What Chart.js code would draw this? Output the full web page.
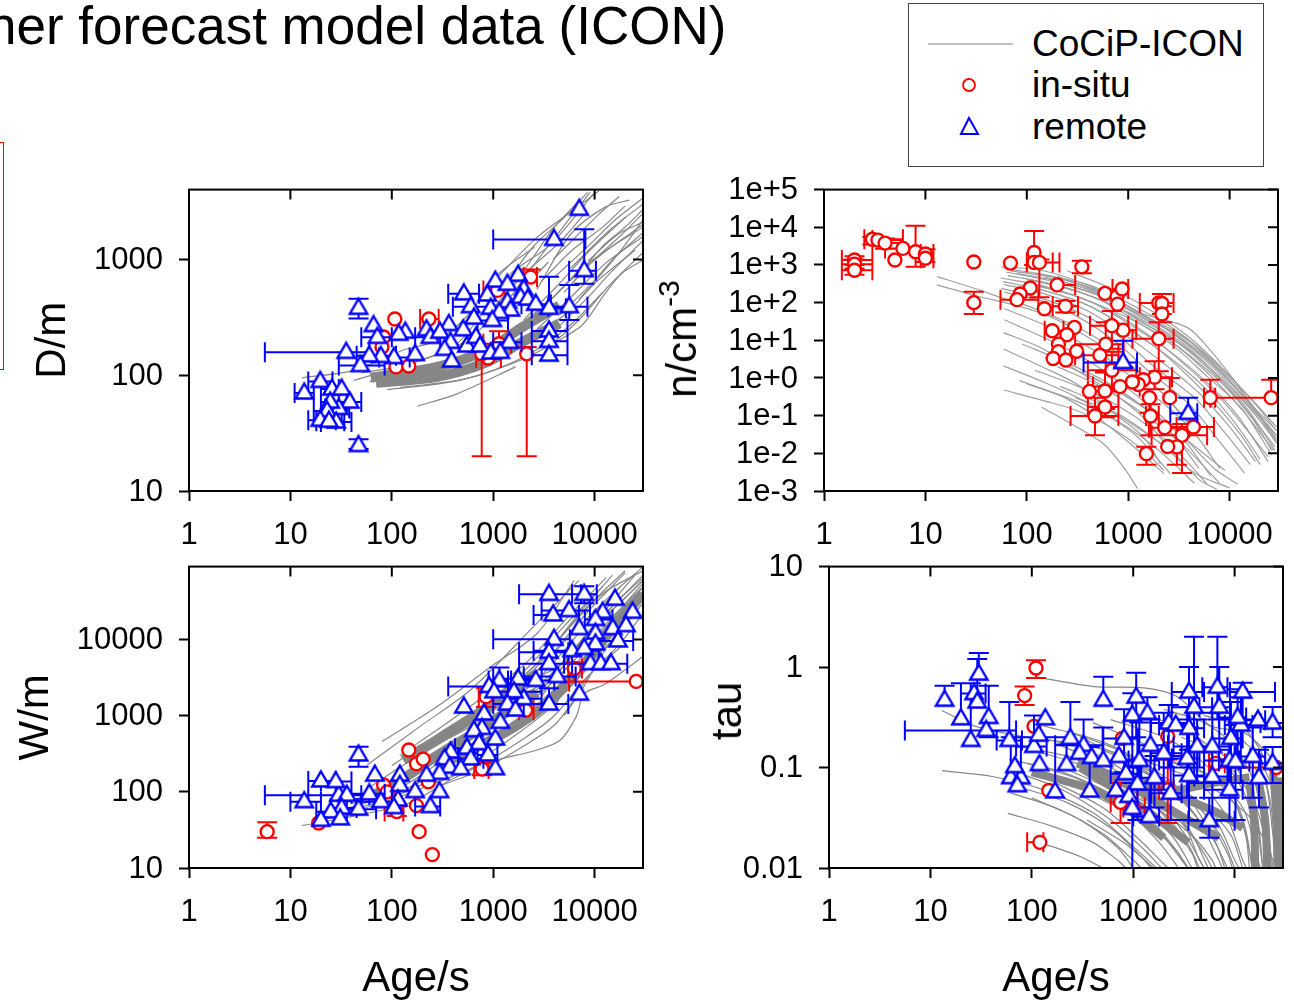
<!DOCTYPE html>
<html lang="en">
<head>
<meta charset="UTF-8">
<title>CoCiP-ICON contrail comparison</title>
<script src="https://cdn.jsdelivr.net/npm/chart.js"></script>
<style>
    body { margin: 0; background: #fff; width: 1294px; height: 1002px; overflow: hidden; position: relative;
           font-family: "Liberation Sans", Arial, sans-serif; color: #000; }
    canvas { position: absolute; }
    .title { position: absolute; left: -13px; top: -5px; font-size: 53px; line-height: 62px; white-space: nowrap; }
    .redbox { position: absolute; left: -10px; top: 142px; width: 12px; height: 226px; border: 1px solid #f00; }
    .ylabel { position: absolute; font-size: 42px; line-height: 50px; white-space: nowrap;
              transform: translate(-50%, -50%) rotate(-90deg); }
    .ylabel sup { font-size: 30px; line-height: 0; vertical-align: 17px; }
    .legend { position: absolute; left: 908px; top: 3px; width: 354px; height: 162px; border: 1px solid #444; background: #fff; }
    .legend span { position: absolute; left: 123px; font-size: 37px; line-height: 42px; white-space: nowrap; }
    .legend svg { position: absolute; left: 0; top: 0; }
</style>
</head>
<body>
<div class="title">her forecast model data (ICON)</div>
<div class="redbox"></div>

<canvas id="panelD" width="627" height="401" style="left:28px;top:155px"></canvas>
<canvas id="panelN" width="630" height="401" style="left:660px;top:155px"></canvas>
<canvas id="panelW" width="644" height="473" style="left:11px;top:532px"></canvas>
<canvas id="panelT" width="593" height="473" style="left:702px;top:532px"></canvas>

<div class="ylabel" style="left:682px;top:339px">n/cm<sup>-3</sup></div>
<div class="ylabel" style="left:727px;top:711px">tau</div>

<div class="legend">
    <svg width="354" height="162">
        <line x1="19" y1="40" x2="104" y2="40" stroke="#aaa" stroke-width="1.5"></line>
        <circle cx="60" cy="81" r="6" fill="none" stroke="#f00" stroke-width="1.8"></circle>
        <path d="M60 114 L69 130 L52 130 Z" fill="none" stroke="#00f" stroke-width="2"></path>
    </svg>
    <span style="top:19px">CoCiP-ICON</span>
    <span style="top:60px">in-situ</span>
    <span style="top:102px">remote</span>
</div>

<script>
    // Axis ticks
    const ageTicks = [1, 10, 100, 1000, 10000];
    const ageLabels = ["1", "10", "100", "1000", "10000"];
    const dTicks = [10, 100, 1000];
    const dLabels = ["10", "100", "1000"];
    const nTicks = [1e-3, 1e-2, 1e-1, 1, 10, 100, 1e3, 1e4, 1e5];
    const nLabels = ["1e-3", "1e-2", "1e-1", "1e+0", "1e+1", "1e+2", "1e+3", "1e+4", "1e+5"];
    const wTicks = [10, 100, 1000, 10000];
    const wLabels = ["10", "100", "1000", "10000"];
    const tauTicks = [0.01, 0.1, 1, 10];
    const tauLabels = ["0.01", "0.1", "1", "10"];

    // Observations: [age, value, ageLow, ageHigh, valueLow, valueHigh], 0 or missing = no bar
    const dInsitu = [
        [107,306],[232,306,190,290],[83,214],[110,118],[147,120],[80,175],[890,141,680,1190],
        [770,153,0,0,20,175],[2140,153,0,0,20,175],[2340,705,2000,2700,0,820],[1140,187,800,1500,0,240],[1100,540,800,1300]
    ];
    const dRemote = [
        [7060,2820],[3980,1550,1000,8100],[7900,832,5600,10300,617,1820],[1760,760],[1050,676],[1380,635],
        [513,525,360,725],[875,513],[2000,575],[1860,490],[2190,473],[1380,447],[600,407,400,900],[945,394],
        [2630,427,1900,3700],[3550,394,2400,5200,0,708],[5620,407,3500,8500,300,600],[1480,380],[1150,363],
        [645,324],[980,309,700,1400],[47,394,0,0,309,457],[66,279],[136,245],[72,221,50,100],[117,235],[220,257],
        [365,285],[240,221,170,300],[298,245],[507,257],[380,200],[331,174],[550,186],[676,221],[741,186],[1440,200,1000,1900],
        [945,162],[1175,164],[389,138],[170,157],[105,148,75,150],[78,151],[60,153,45,110],[49,126,30,85],[35.5,164,5.6,60],
        [3550,251,2400,5400],[3550,204,2400,5400],[3550,155,2400,5400,0,0],[19.7,92,15,26],[13.7,73,11,17],[25.7,79,20,30],
        [32,79],[38.5,61,30,50],[30,53.7,22,38],[24.7,61,20,36],[23,51,17,32],[19.7,42.5,15,28],[28.3,41,20,40],[24,41.7,18,34],
        [47,25.7,0,0,23,28]
    ];
    const nInsitu = [
        [2,1350,1.5,3,1000,1700],[2,1050,1.5,3,800,1400],[2,725,1.5,3,550,1000],[3,4800,2.5,6,3500,5500],[3.4,4570,3,6],
        [4,3800,3,6,2700,5000],[5,1350],[6,2750,4,8],[8,2250,0,0,890,11000],[10,1950,9,12,1200,2600],[10,1510,9,12],
        [30,1200],[30,100,0,0,50,195],[69,1120],[118,2150,0,0,1000,8000],[118,1170,100,180],[133,1170,100,210,138,1400],
        [349,890,0,0,600,1300],[199,295,0,300],[108,245],[86,170],[80,120,55,130],[149,69],[240,80,180,320,55,110],
        [590,176],[775,145],[870,229,700,1000],[785,91],[2000,98,1300,2800],[2150,95,0,0,50,170],[2150,50,0,0,30,80],
        [890,18.6,600,1200],[690,24.5,420,1000,6,60],[295,22],[178,18,150,230],[248,14],[2000,11,1100,2800,1.5,30],
        [600,7.9,300,900,1.5,30],[205,7.9],[205,5],[310,5.1],[182,3.3],[243,3],[525,4,300,800],[690,1.6,400,1200,0.5,5],
        [1820,1.05,1300,2700,0.5,2.8],[1410,0.9],[1260,0.67],[1100,0.78],[830,0.59,450,1300],[590,0.45,400,800,0.15,1.4],
        [415,0.44,400,800],[590,0.17,400,800,0.09,0.45],[470,0.098,270,800,0.03,0.3],[1620,0.3,0,0,0.12,0.5],
        [2570,0.3,0,0,0,1],[1660,0.098,1500,2000,0.03,0.2],[6450,0.3,5600,7200,0,0.9],[25700,0.3,6450,0,0,0.9],
        [1510,0.0098,0,0,0.005,0.015],[2290,0.048,1600,4000],[4400,0.05,3000,7000],[3390,0.03,1700,6000,0.003,0.06],
        [3020,0.0148,0,0,0.005,0.05],[2450,0.0152]
    ];
    const nRemote = [
        [890,2.9,363,1220,1.9,9.8],[3900,0.13,2600,4800,0,0.3]
    ];
    const wInsitu = [
        [5.9,30,0,0,25,40],[19,39],[83,123],[90,100],[112,55,85,130,48,64],[147,355],[175,234],[204,269],[229,136],[175,66],
        [186,30],[251,15],[776,200,650,900,165,240],[850,1780,720,1000,1300,2300],[6300,4170,5500,7500,2800,5000],
        [25700,2820,5600],[2090,1180,1800,2500]
    ];
    const wRemote = [
        [3550,41700,1800,7330],[7900,41700,6000,10500,30000,50000],[15900,36000],[23700,24300],[5600,25500,3000,9000],
        [3900,22400,2500,7000],[12000,24300],[10200,19500,8000,15000],[7060,14800],[15100,14800],[20400,16200],
        [3980,10700,1000,5700],[17000,10200,11000,24000],[10200,12900],[10200,9300],[6000,7590,2500,11000],[7900,8130],
        [3550,7240,1800,5500],[3550,5130,1800,6000],[9100,5130,5000,21000],[11500,5130],[14500,5130],[4270,3470,2000,6500],
        [7060,2040,0,0],[2630,3090,1500,4000],[1760,3240,1000,3000],[1150,3090,900,1400,0,4300],[2000,1780,1400,3000],
        [3550,1510,1800,5500,0,2300],[1600,2190,1000,3000],[1380,1510,1000,2000],[1660,1260],[910,2570,360,1400],[1020,2190],
        [513,1380],[813,1120],[1175,870],[776,724],[645,676],[1050,525],[724,457],[550,398,420,800],[380,355],[890,324,700,1100],
        [600,288,450,800],[331,288],[372,224],[478,214],[1050,214],[295,186],[220,176],[47,324,0,0,214,390],[68,176],
        [120,176],[120,129],[170,107],[295,107],[60,100,40,85],[30,96,15,50],[36,96,5.6,60],[20,148,15,28],[28,145,20,40],
        [13.7,79,10,20],[115,83],[78,79,50,100],[47,63,30,70],[32,65,25,45],[25,58,18,36],[31,47],[20,45],[105,66],[240,68,170,300]
    ];
    const tInsitu = [
        [110,0.98,0,0,0.78,1.17],[85,0.52,0,0,0.42,0.64],[105,0.257],[147,0.059],[120,0.018,90,130],[780,0.195],
        [2190,0.204],[750,0.045,600,1100,0.028,0.07],[1000,0.04,800,1300],[2190,0.06,1800,2500,0.028,0.12],
        [6500,0.11,5600,8000],[25700,0.1,5600]
    ];
    const tRemote = [
        [13.8,0.49,0,0,0,0.65],[20,0.32,0,0,0,0.69],[25,0.195,0,0,0,0.69],[27,0.57,20,35],[30,0.89,0,0,0,1.38],[29,0.47,0,0,0,1.2],
        [37.6,0.33,0,0,0.2,0.65],[35.5,0.245,5.6,70],[60,0.195,45,80,0,0.45],[62,0.083,0,0,0,0.2],[78,0.083,0,0,0,0.2],[72,0.069],
        [68,0.107],[105,0.17,70,140,0,0.33],[119,0.112],[117,0.22],[136,0.32],[170,0.06,0,0,0,0.2],[220,0.112,0,0,0,0.17],
        [240,0.204,0,0,0,0.45],[372,0.061,0,0,0,0.16],[324,0.174,170,500,0,0.3],[295,0.145],[389,0.132],[507,0.49,0,0,0,0.8],
        [507,0.123,0,0,0,0.25],[676,0.062],[724,0.135],[813,0.204,500,1100,0.09,0.38],[850,0.091,600,1200],[980,0.347,0,0,0.1,0.55],
        [1070,0.525,0,0,0.2,0.88],[1100,0.072,0,0,0.03,0.12],[1150,0.123,900,1800,0.07,0.28],[910,0.054],[980,0.041,0,0,0.01,0.07],
        [1380,0.363,0,0,0,0.5],[1480,0.174,1100,2200,0.04,0.3],[1440,0.034,1000,1800,0,0.06],[1620,0.083,1000,2000,0.04,0.13],
        [2000,0.145,1500,3000,0.06,0.35],[2340,0.058,1500,3000,0.03,0.13],[2240,0.29,1500,3400,0.1,0.42],[2630,0.277,1800,3600],
        [3550,0.59,2400,5000,0.25,1],[3980,0.417,2400,6000,0.1,2],[3550,0.257,2000,5000,0.1,0.4],[3400,0.129,2400,4500,0.05,0.3],
        [4270,0.17,2500,6000,0.07,0.3],[3550,0.087,2500,5000,0.03,0.15],[6760,0.66,4800,8500,0.3,2],[7060,0.417,4500,9000,0.15,1],
        [6030,0.17,4000,9000,0.07,0.35],[6030,0.085,4000,8500,0.03,0.15],[5620,0.031,3500,10000,0.02,0.05],[8900,0.123,5000,11000,0.05,0.3],
        [8900,0.063,5000,12000,0.03,0.12],[9200,0.204,6000,12000,0.07,0.45],[10200,0.12,7000,14000,0.03,0.3],[12000,0.59,9000,25000,0.3,0.7],
        [11500,0.277,8000,15000,0.07,0.5],[15100,0.135,10000,20000,0.05,0.25],[17400,0.083,0,0,0.04,0.15],[23700,0.29,18000,30000,0.2,0.4],
        [23700,0.115,18000,30000,0.07,0.16],[17000,0.31,12000,20000],[10700,0.33,7000,13000,0.1,0.6]
    ];

    // Simulated contrail trails, each a list of [age, value]
    const dTrails = [
        [[13,95],[42,110],[130,165],[280,200],[600,350],[1030,700],[2550,1280]],
        [[42,90],[130,122],[410,178],[870,390],[1480,750],[3700,1350],[10000,3800]],
        [[1100,700],[2700,1550],[6300,2700],[11000,3900]],
        [[3900,1000],[11000,2450],[17500,3500]],
        [[2700,550],[5800,1650],[12700,2830],[22000,3250]],
        [[5800,840],[12700,1650],[22000,2450],[30000,3000]],
        [[8600,970],[17000,1650],[30000,2100]],
        [[2700,340],[5800,660],[12700,1170],[30000,2000]],
        [[2700,250],[5800,470],[12700,920],[30000,1580]],
        [[3980,240],[8600,470],[15000,800],[30000,1450]],
        [[3980,190],[7500,270],[12700,510],[18600,760],[30000,990]],
        [[178,54],[440,69],[1660,118]],
        [[1500,480],[3000,1100],[6000,2400],[9000,3800]],
        [[1000,380],[2200,800],[4500,1400],[8000,2500]],
        [[2000,300],[4500,620],[9000,1200],[20000,2300]],
        [[1500,240],[3500,430],[7000,800],[15000,1300],[30000,1900]],
        [[60,88],[200,108],[500,145],[1000,195],[2000,280],[4000,480],[8000,900]],
        [[70,82],[300,100],[800,140],[2000,200],[5000,330],[10000,620],[25000,1200]],
        [[90,75],[400,88],[1000,110],[2500,160],[6000,280],[12000,520]],
        [[50,105],[150,125],[500,190],[900,290],[1800,520],[3500,950]],
        [[120,78],[500,92],[1500,125],[3500,180],[7000,300],[14000,600],[30000,1150]],
        [[3000,650],[6000,1200],[12000,1900],[20000,2900]],
        [[4000,700],[9000,1350],[16000,2200],[30000,3400]],
        [[5000,520],[10000,1000],[18000,1600],[30000,2500]],
        [[1200,450],[2200,900],[4000,1900],[7000,3200]],
        [[1300,600],[2500,1300],[5000,2300],[8500,3800]],
        [[6000,620],[12000,1300],[20000,1900],[30000,2700]],
        [[7000,450],[14000,900],[22000,1500],[30000,2200]],
        [[4500,330],[9000,600],[16000,1050],[30000,1700]]
    ];
    const dDense = [
        [[62,95],[280,118],[870,165],[1860,255],[4500,400]],
        [[70,86],[280,97],[870,130],[1860,190],[4500,280]]
    ];
    const nTrails = [
        [[56,890],[146,700],[453,250],[1420,50],[3800,22],[6500,5.3],[13900,0.38],[29000,0.022]],
        [[60,800],[180,500],[500,190],[1400,40],[3500,12],[7500,2.2],[16000,0.22],[29000,0.018]],
        [[62,650],[170,380],[500,160],[1300,32],[3000,9],[7000,1.3],[15000,0.15],[28000,0.012]],
        [[65,520],[190,300],[520,120],[1250,30],[2900,6.5],[6000,1.1],[13000,0.16],[26000,0.009]],
        [[55,450],[160,260],[450,100],[1100,24],[2600,5],[6000,0.75],[12000,0.1],[24000,0.006]],
        [[58,360],[150,210],[420,80],[1000,20],[2400,4],[5500,0.6],[11000,0.07],[20000,0.007]],
        [[60,300],[150,170],[400,60],[900,15],[2100,2.8],[5000,0.4],[10000,0.05],[18000,0.006]],
        [[56,240],[140,130],[360,48],[800,13],[1800,2],[4500,0.3],[9000,0.035],[16000,0.005]],
        [[60,190],[150,105],[330,40],[720,10],[1600,1.5],[4000,0.2],[8000,0.02],[14000,0.003]],
        [[100,420],[350,180],[1000,55],[2800,11],[7000,1.5],[16000,0.15],[29000,0.02]],
        [[100,350],[300,150],[900,45],[2500,10],[6000,1.4],[14000,0.12],[27000,0.012]],
        [[80,600],[300,290],[900,80],[2500,18],[6500,2.2],[15000,0.2],[29000,0.03]],
        [[120,600],[400,300],[1100,85],[3000,18],[7000,2.8],[16000,0.3],[29000,0.05]],
        [[200,500],[600,170],[1500,42],[3500,13],[8000,1.6],[18000,0.14],[29000,0.03]],
        [[13,490],[32,230],[68,112],[100,83],[230,33],[500,11],[1100,2],[2400,0.3],[5000,0.03]],
        [[13,295],[32,150],[80,83],[180,40],[400,12],[900,3],[2000,0.5],[4200,0.05]],
        [[59,16],[146,5.9],[310,1.6],[665,0.45],[1400,0.09],[2600,0.012]],
        [[59,5.9],[146,1.9],[310,0.69],[665,0.137],[1420,0.027],[2080,0.0053]],
        [[59,2.1],[146,0.78],[310,0.31],[665,0.091],[1240,0.027],[2600,0.0029]],
        [[59,0.48],[146,0.25],[310,0.137],[665,0.05],[1420,0.012],[2250,0.0035]],
        [[140,0.168],[310,0.05],[570,0.018],[900,0.0043],[1240,0.00115]],
        [[85,0.85],[230,0.31],[490,0.091],[1050,0.018],[2250,0.0029]],
        [[214,0.6],[500,0.22],[1200,0.05],[2800,0.01],[5000,0.002],[7500,0.0011]],
        [[100,0.7],[300,0.25],[800,0.07],[2000,0.012],[4500,0.0016]],
        [[60,35],[200,8],[500,2],[1200,0.35],[3000,0.04],[6500,0.0025]],
        [[60,70],[200,18],[600,3.5],[1500,0.5],[4000,0.05],[8000,0.004]],
        [[200,2],[500,0.65],[1300,0.13],[3500,0.016],[8000,0.0016]],
        [[300,0.3],[800,0.11],[2000,0.02],[4500,0.003],[10000,0.0012]],
        [[400,1.2],[1000,0.3],[3000,0.04],[7000,0.004],[12000,0.0015]],
        [[150,3.5],[500,0.9],[1500,0.15],[4000,0.02],[9000,0.0035]],
        [[70,700],[220,420],[650,150],[1600,38],[3800,9],[8000,1.6],[17000,0.15],[29000,0.025]],
        [[90,450],[260,230],[700,85],[1700,22],[4000,4],[8500,0.7],[17000,0.08],[26000,0.012]],
        [[110,300],[300,150],[750,50],[1700,12],[3800,2],[8000,0.3],[15000,0.04],[24000,0.008]],
        [[130,230],[350,100],[800,30],[1800,7],[3800,1.2],[7500,0.18],[13000,0.03],[20000,0.005]],
        [[150,480],[420,220],[1100,70],[2800,15],[6500,2.5],[14000,0.3],[29000,0.04]],
        [[200,350],[600,130],[1500,35],[3500,8],[7500,1.2],[15000,0.13],[28000,0.015]],
        [[250,700],[700,230],[1700,60],[4000,12],[8500,1.8],[18000,0.2],[29000,0.04]],
        [[90,8],[250,2.5],[600,0.8],[1300,0.2],[2800,0.03],[5000,0.004]],
        [[120,1.6],[320,0.6],[800,0.18],[1800,0.04],[3800,0.006],[6000,0.0015]]
    ];
    const wTrails = [
        [[13,36],[42,48],[150,72],[350,135],[870,240],[2700,355],[4600,480],[6600,980],[7900,1950],[12700,2600],[30000,6000]],
        [[80,457],[280,1320],[940,4370],[2700,12000],[6300,60000]],
        [[57,225],[190,724],[600,2190],[2500,14800],[7000,60000]],
        [[62,118],[130,225],[280,417],[600,724],[1270,1450],[2700,2400],[6000,7000],[14000,25000],[30000,70000]],
        [[45,80],[130,150],[280,300],[600,550],[1270,1100],[2700,2000],[6000,6000],[14000,22000],[30000,60000]],
        [[40,70],[130,120],[280,230],[600,420],[1270,900],[2700,1800],[6000,5000],[14000,18000],[30000,50000]],
        [[35,60],[120,100],[300,190],[700,360],[1500,700],[3000,1500],[6500,4000],[15000,15000],[30000,42000]],
        [[25,48],[100,85],[300,160],[800,290],[1800,600],[3500,1200],[7000,3300],[16000,11000],[30000,30000]],
        [[20,42],[80,72],[250,125],[800,240],[2000,500],[4000,1000],[8000,3000],[18000,9000],[30000,22000]],
        [[100,220],[300,600],[800,1400],[2000,3800],[5000,15000],[12000,50000]],
        [[120,300],[350,800],[900,2000],[2200,5200],[5500,20000],[13000,65000]],
        [[150,330],[400,700],[1000,1500],[2500,3500],[6000,12000],[15000,40000],[30000,90000]],
        [[600,1000],[1500,2400],[3500,7000],[8000,25000],[20000,80000]],
        [[1000,1800],[2500,4000],[5000,12000],[12000,40000],[30000,80000]],
        [[1500,1200],[3500,3000],[7000,9000],[16000,30000],[30000,65000]],
        [[2000,900],[4000,2000],[8000,6000],[16000,20000],[30000,48000]],
        [[300,120],[800,200],[2000,400],[4000,750],[6000,1500],[9000,3500],[18000,8000]],
        [[2500,3000],[5000,5000],[10000,15000],[20000,35000],[30000,60000]],
        [[200,400],[500,850],[1200,1900],[3000,5500],[7000,22000],[15000,70000]],
        [[2000,2500],[4000,7000],[9000,25000],[20000,75000]],
        [[3000,1800],[6000,6500],[12000,22000],[25000,70000]],
        [[4000,1300],[7000,4500],[13000,15000],[30000,55000]],
        [[5000,1000],[7500,2200],[14000,9000],[30000,35000]],
        [[700,650],[1600,1600],[3500,4200],[8000,15000],[18000,50000]],
        [[500,300],[1200,650],[2500,1300],[5000,3000],[10000,10000],[22000,30000]],
        [[400,270],[1000,480],[2500,900],[5000,2200],[9000,6000],[20000,18000]]
    ];
    const wDense = [
        [[62,85],[130,150],[280,300],[600,560],[1270,1050],[2700,2000]],
        [[300,230],[870,450],[1860,800],[3500,1500],[7000,3800],[15000,14000],[30000,40000]],
        [[130,260],[280,480],[600,900],[1270,1800],[2700,3500]]
    ];
    const tTrails = [
        [[110,0.8],[410,0.64],[1270,0.62],[2700,0.51],[5800,0.26],[12700,0.22],[24000,0.12]],
        [[13,0.37],[27,0.26],[90,0.2],[300,0.17],[900,0.13],[2000,0.1],[5000,0.07],[15000,0.03],[26000,0.01]],
        [[13,0.093],[42,0.081],[130,0.06],[410,0.035],[900,0.018],[1700,0.01]],
        [[62,0.056],[190,0.038],[500,0.022],[1000,0.012],[1200,0.01]],
        [[58,0.035],[160,0.026],[400,0.018],[700,0.012],[850,0.01]],
        [[120,0.018],[300,0.013],[500,0.01]],
        [[70,0.09],[200,0.06],[600,0.03],[1300,0.015],[1900,0.01]],
        [[90,0.11],[300,0.075],[800,0.04],[1800,0.018],[2800,0.01]],
        [[100,0.15],[350,0.1],[1000,0.05],[2500,0.02],[3800,0.01]],
        [[120,0.2],[400,0.14],[1200,0.07],[3000,0.03],[4500,0.012],[5000,0.01]],
        [[130,0.26],[500,0.18],[1500,0.1],[3500,0.05],[6500,0.018],[8000,0.01]],
        [[200,0.1],[600,0.06],[1500,0.03],[2800,0.014],[3400,0.01]],
        [[150,0.075],[500,0.04],[1100,0.02],[2000,0.011],[2200,0.01]],
        [[250,0.14],[800,0.075],[2000,0.035],[3500,0.017],[4500,0.01]],
        [[300,0.2],[1000,0.11],[2800,0.05],[6000,0.02],[8500,0.01]],
        [[400,0.28],[1300,0.17],[3500,0.09],[8000,0.035],[12000,0.012],[13000,0.01]],
        [[600,0.3],[2000,0.2],[5000,0.11],[11000,0.04],[15000,0.01]],
        [[1000,0.35],[3000,0.25],[7000,0.13],[13000,0.05],[17000,0.012],[18000,0.01]],
        [[2000,0.38],[5000,0.28],[10000,0.16],[18000,0.05],[24000,0.01]],
        [[5000,0.33],[12000,0.25],[20000,0.12],[30000,0.04]],
        [[8000,0.25],[15000,0.15],[24000,0.06],[30000,0.02]],
        [[3000,0.2],[8000,0.13],[14000,0.06],[20000,0.02],[22000,0.01]],
        [[2000,0.12],[6000,0.08],[12000,0.04],[16000,0.015],[17000,0.01]],
        [[1500,0.08],[4000,0.05],[9000,0.022],[12000,0.01]],
        [[800,0.06],[2000,0.035],[4000,0.02],[6000,0.012],[6500,0.01]],
        [[450,0.05],[1200,0.03],[2500,0.016],[3500,0.01]],
        [[350,0.03],[800,0.018],[1300,0.012],[1600,0.01]],
        [[13000,0.08],[16000,0.04],[18000,0.015],[19000,0.01]],
        [[20000,0.08],[23000,0.04],[25000,0.015],[26000,0.01]],
        [[25000,0.1],[27000,0.05],[29000,0.02],[30000,0.01]],
        [[16000,0.1],[20000,0.05],[22000,0.02],[23000,0.01]],
        [[10000,0.05],[13000,0.02],[14000,0.01]],
        [[250,0.22],[700,0.15],[1800,0.08],[4000,0.035],[7000,0.012],[7500,0.01]],
        [[180,0.17],[600,0.1],[1600,0.05],[3200,0.022],[5000,0.01]],
        [[60,0.12],[200,0.09],[700,0.05],[1700,0.025],[3000,0.012],[3500,0.01]],
        [[80,0.16],[300,0.12],[900,0.07],[2200,0.03],[3800,0.014],[4300,0.01]],
        [[70,0.065],[220,0.045],[600,0.025],[1200,0.013],[1500,0.01]],
        [[100,0.05],[300,0.03],[700,0.016],[1000,0.01]],
        [[500,0.15],[1500,0.09],[4000,0.045],[7500,0.02],[10000,0.01]],
        [[700,0.12],[2000,0.07],[5000,0.035],[8500,0.014],[9500,0.01]],
        [[1000,0.1],[3000,0.06],[6500,0.03],[10000,0.012],[11000,0.01]],
        [[3000,0.12],[7000,0.07],[12000,0.03],[15000,0.01]],
        [[5000,0.15],[10000,0.09],[16000,0.04],[19000,0.01]],
        [[600,0.08],[1700,0.05],[3500,0.025],[5500,0.01]],
        [[1200,0.05],[2800,0.03],[5000,0.014],[6000,0.01]],
        [[18000,0.1],[21000,0.06],[24000,0.02],[25000,0.01]]
    ];
    const tDense = [
        [[280,0.11],[900,0.075],[2500,0.06],[6000,0.07],[14000,0.08]],
        [[100,0.09],[400,0.06],[1000,0.035],[2000,0.02]],
        [[300,0.1],[900,0.05],[1800,0.03],[3500,0.018]],
        [[500,0.09],[1500,0.05],[3500,0.03],[7000,0.02]],
        [[1000,0.08],[3000,0.05],[7000,0.035],[12000,0.025]],
        [[14000,0.07],[15500,0.03],[16000,0.01]],
        [[17000,0.08],[20000,0.03],[21000,0.01]],
        [[24000,0.09],[26000,0.03],[26500,0.01]],
        [[28000,0.08],[29000,0.03],[29500,0.01]]
    ];

    // Triangle whose box, not its centroid, sits on the data point
    function triangleMark() {
        const c = document.createElement("canvas");
        c.width = 26;
        c.height = 26;
        const g = c.getContext("2d");
        g.beginPath();
        g.moveTo(13, 5.5);
        g.lineTo(21.7, 20.5);
        g.lineTo(4.3, 20.5);
        g.closePath();
        g.fillStyle = "#fff";
        g.fill();
        g.strokeStyle = "#0000ff";
        g.lineWidth = 2.4;
        g.stroke();
        return c;
    }
    const triangle = triangleMark();

    // Whiskers go under the markers of their own series, hence beforeDatasetDraw
    const errorBars = {
        id: "errorBars",
        beforeDatasetDraw(chart, args) {
            const ds = chart.data.datasets[args.index];
            if (!ds.rows) return;
            const { ctx, chartArea: a, scales: { x, y } } = chart;
            const cap = 10;
            const nudge = ds.pointStyle === triangle ? 2 : 0; // horizontal bars cross the triangle low
            ctx.save();
            ctx.beginPath();
            ctx.rect(a.left, a.top, a.width, a.height);
            ctx.clip();
            ctx.strokeStyle = ds.borderColor;
            ctx.lineWidth = 2;
            ctx.beginPath();
            ds.rows.forEach(([px, py, xLo, xHi, yLo, yHi]) => {
                const cx = x.getPixelForValue(px), cy = y.getPixelForValue(py) + nudge;
                [xLo, xHi].forEach(v => {
                    if (!v) return;
                    const e = x.getPixelForValue(v);
                    ctx.moveTo(cx, cy); ctx.lineTo(e, cy);
                    ctx.moveTo(e, cy - cap); ctx.lineTo(e, cy + cap);
                });
                [yLo, yHi].forEach(v => {
                    if (!v) return;
                    const e = y.getPixelForValue(v);
                    ctx.moveTo(cx, cy); ctx.lineTo(cx, e);
                    ctx.moveTo(cx - cap, e); ctx.lineTo(cx + cap, e);
                });
            });
            ctx.stroke();
            ctx.restore();
        }
    };

    // Frame and the inward ticks on the top and right sides
    const frame = {
        id: "frame",
        afterDraw(chart) {
            const { ctx, chartArea: a, scales: { x, y } } = chart;
            ctx.save();
            ctx.strokeStyle = "#000";
            ctx.lineWidth = 2;
            ctx.strokeRect(a.left, a.top, a.width, a.height);
            ctx.beginPath();
            x.ticks.forEach(t => {
                const p = x.getPixelForValue(t.value);
                ctx.moveTo(p, a.top); ctx.lineTo(p, a.top + 10);
            });
            y.ticks.forEach(t => {
                const p = y.getPixelForValue(t.value);
                ctx.moveTo(a.right, p); ctx.lineTo(a.right - 10, p);
            });
            ctx.stroke();
            ctx.restore();
        }
    };

    function asPoints(list) {
        return list.map(p => ({ x: p[0], y: p[1] }));
    }

    function logAxis(min, max, tickValues, tickLabels, size, title) {
        const vertical = size.vertical;
        return {
            type: "logarithmic",
            min: min,
            max: max,
            border: { display: false },
            grid: { drawOnChartArea: false, tickLength: 10, tickWidth: 2, tickColor: "#000" },
            afterBuildTicks: s => { s.ticks = tickValues.map(v => ({ value: v })); },
            afterFit: s => { if (vertical) s.width = size.room; else s.height = size.room; },
            ticks: {
                autoSkip: false,
                maxRotation: 0,
                padding: size.pad,
                labelOffset: vertical ? 1 : 0,
                color: "#000",
                font: { family: "Liberation Sans", size: 31 },
                callback: (v, i) => tickLabels[i]
            },
            title: {
                display: !!title,
                text: title || "",
                color: "#000",
                padding: 0,
                font: { family: "Liberation Sans", size: 42 }
            }
        };
    }

    function panel(id, cfg) {
        const datasets = [];
        datasets.push({
            data: asPoints(cfg.remote), rows: cfg.remote, pointStyle: triangle, pointRadius: 11,
            borderColor: "#0000ff", showLine: false
        });
        datasets.push({
            data: asPoints(cfg.insitu), rows: cfg.insitu, pointStyle: "circle", pointRadius: 6.5, pointBorderWidth: 2.4,
            borderColor: "#ff0000", pointBorderColor: "#ff0000", pointBackgroundColor: "#fff", showLine: false
        });
        cfg.trails.forEach(t => datasets.push({ data: asPoints(t), showLine: true, pointRadius: 0, borderColor: cfg.grey, borderWidth: 1.2, tension: 0.3 }));
        (cfg.dense || []).forEach(t => datasets.push({ data: asPoints(t), showLine: true, pointRadius: 0, borderColor: "#868686", borderWidth: cfg.denseWidth, tension: 0.3 }));

        new Chart(document.getElementById(id), {
            type: "scatter",
            data: { datasets: datasets },
            plugins: [errorBars, frame],
            options: {
                responsive: false,
                animation: false,
                layout: { padding: { top: 20, right: 2 } },
                plugins: { legend: { display: false }, tooltip: { enabled: false } },
                scales: {
                    x: logAxis(1, 30000, ageTicks, ageLabels, { vertical: false, room: cfg.bottomRoom, pad: 16 }, cfg.xTitle),
                    y: logAxis(cfg.yMin, cfg.yMax, cfg.yTicks, cfg.yLabels, { vertical: true, room: cfg.leftRoom, pad: 16 }, cfg.yTitle)
                }
            }
        });
    }

    panel("panelD", { remote: dRemote, insitu: dInsitu, trails: dTrails, dense: dDense, denseWidth: 10, grey: "#888",
        yMin: 10, yMax: 4010, yTicks: dTicks, yLabels: dLabels, leftRoom: 161, bottomRoom: 65, yTitle: "D/m" });
    panel("panelN", { remote: nRemote, insitu: nInsitu, trails: nTrails, grey: "#a0a0a0",
        yMin: 1e-3, yMax: 1e5, yTicks: nTicks, yLabels: nLabels, leftRoom: 164, bottomRoom: 65 });
    panel("panelW", { remote: wRemote, insitu: wInsitu, trails: wTrails, dense: wDense, denseWidth: 10, grey: "#888",
        yMin: 10, yMax: 90800, yTicks: wTicks, yLabels: wLabels, leftRoom: 178, bottomRoom: 137, xTitle: "Age/s", yTitle: "W/m" });
    panel("panelT", { remote: tRemote, insitu: tInsitu, trails: tTrails, dense: tDense, denseWidth: 8, grey: "#888",
        yMin: 0.01, yMax: 10, yTicks: tauTicks, yLabels: tauLabels, leftRoom: 127, bottomRoom: 137, xTitle: "Age/s" });
</script>
</body>
</html>
